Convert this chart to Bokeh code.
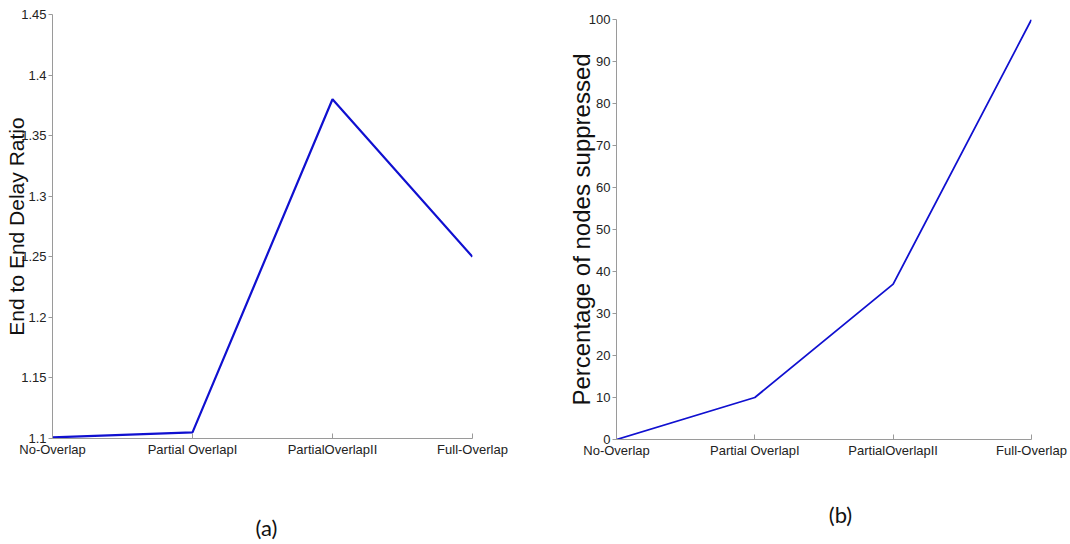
from bokeh.plotting import figure
from bokeh.layouts import row, column
from bokeh.models import FixedTicker, Range1d, Label
from bokeh.embed import file_html
from bokeh.resources import INLINE

# Overlap scenarios on the x axis
scenarios = ["No-Overlap", "Partial OverlapI", "PartialOverlapII", "Full-Overlap"]
scenario_pos = [0, 1, 2, 3]

# (a) end-to-end delay ratio per scenario
delay_ratio = [1.101, 1.105, 1.38, 1.25]
delay_ticks = [1.1, 1.15, 1.2, 1.25, 1.3, 1.35, 1.4, 1.45]
delay_tick_labels = ["1.1", "1.15", "1.2", "1.25", "1.3", "1.35", "1.4", "1.45"]

# (b) percentage of nodes suppressed per scenario
suppressed_pct = [0, 10, 37, 100]
pct_ticks = [0, 10, 20, 30, 40, 50, 60, 70, 80, 90, 100]

LINE_BLUE = "#1010d0"
AXIS_GREY = "#9a9a9a"
TICK_FONT = "Liberation Sans"
PLOT_H = 490
CAPTION_H = 54


def style_axes(p, yticks, ylabels, ytitle, ytitle_size, ytitle_standoff):
    p.xaxis.ticker = FixedTicker(ticks=scenario_pos)
    p.xaxis.major_label_overrides = {i: s for i, s in zip(scenario_pos, scenarios)}
    p.yaxis.ticker = FixedTicker(ticks=yticks)
    p.yaxis.major_label_overrides = {t: l for t, l in zip(yticks, ylabels)}
    for ax in (p.xaxis[0], p.yaxis[0]):
        ax.axis_line_color = AXIS_GREY
        ax.major_tick_line_color = AXIS_GREY
        ax.minor_tick_line_color = None
        ax.major_label_text_font = TICK_FONT
        ax.major_label_text_font_size = "13px"
        ax.major_label_text_color = "#222222"
    p.xaxis.major_tick_in = 5
    p.xaxis.major_tick_out = 0
    p.xaxis.major_label_standoff = 3
    p.yaxis.major_tick_in = 0
    p.yaxis.major_tick_out = 4
    p.yaxis.major_label_standoff = 2
    p.yaxis.axis_label = ytitle
    p.yaxis.axis_label_text_font = TICK_FONT
    p.yaxis.axis_label_text_font_style = "normal"
    p.yaxis.axis_label_text_font_size = ytitle_size
    p.yaxis.axis_label_text_color = "#111111"
    p.yaxis.axis_label_standoff = ytitle_standoff
    p.xgrid.visible = False
    p.ygrid.visible = False
    p.outline_line_color = None


def caption_strip(width, text, cx, cy):
    # thin strip under a panel holding its "(a)"/"(b)" caption;
    # cx/cy are pixels from the lower-left of the strip's (column-aligned) frame
    c = figure(width=width, height=CAPTION_H, output_backend="svg", toolbar_location=None,
               x_axis_type=None, y_axis_type=None, min_border=0,
               x_range=Range1d(0, 1), y_range=Range1d(0, 1))
    c.outline_line_color = None
    c.xgrid.visible = False
    c.ygrid.visible = False
    c.add_layout(Label(x=cx, y=cy, x_units="screen", y_units="screen", text=text,
                       text_font="Lato", text_font_size="22px", text_align="center",
                       text_baseline="middle", text_color="#111111"))
    return c


# Panel (a)
pa = figure(width=560, height=PLOT_H, output_backend="svg", toolbar_location=None,
            x_range=Range1d(0, 3), y_range=Range1d(1.1, 1.45),
            min_border_left=52, min_border_right=88, min_border_top=14, min_border_bottom=52)
pa.line(scenario_pos, delay_ratio, line_color=LINE_BLUE, line_width=2.2)
style_axes(pa, delay_ticks, delay_tick_labels, "End to End Delay Ratio", "21px", -10)
ca = caption_strip(560, "(a)", 214, 17)

# Panel (b)
pb = figure(width=510, height=PLOT_H, output_backend="svg", toolbar_location=None,
            x_range=Range1d(0, 3), y_range=Range1d(0, 100),
            min_border_left=56, min_border_right=39, min_border_top=19, min_border_bottom=51)
pb.line(scenario_pos, suppressed_pct, line_color=LINE_BLUE, line_width=1.8)
style_axes(pb, pct_ticks, [str(t) for t in pct_ticks], "Percentage of nodes suppressed", "24px", -9)
cb = caption_strip(510, "(b)", 224, 30)

layout = row(column(pa, ca), column(pb, cb))
open("out.html", "w").write(file_html(layout, INLINE))
